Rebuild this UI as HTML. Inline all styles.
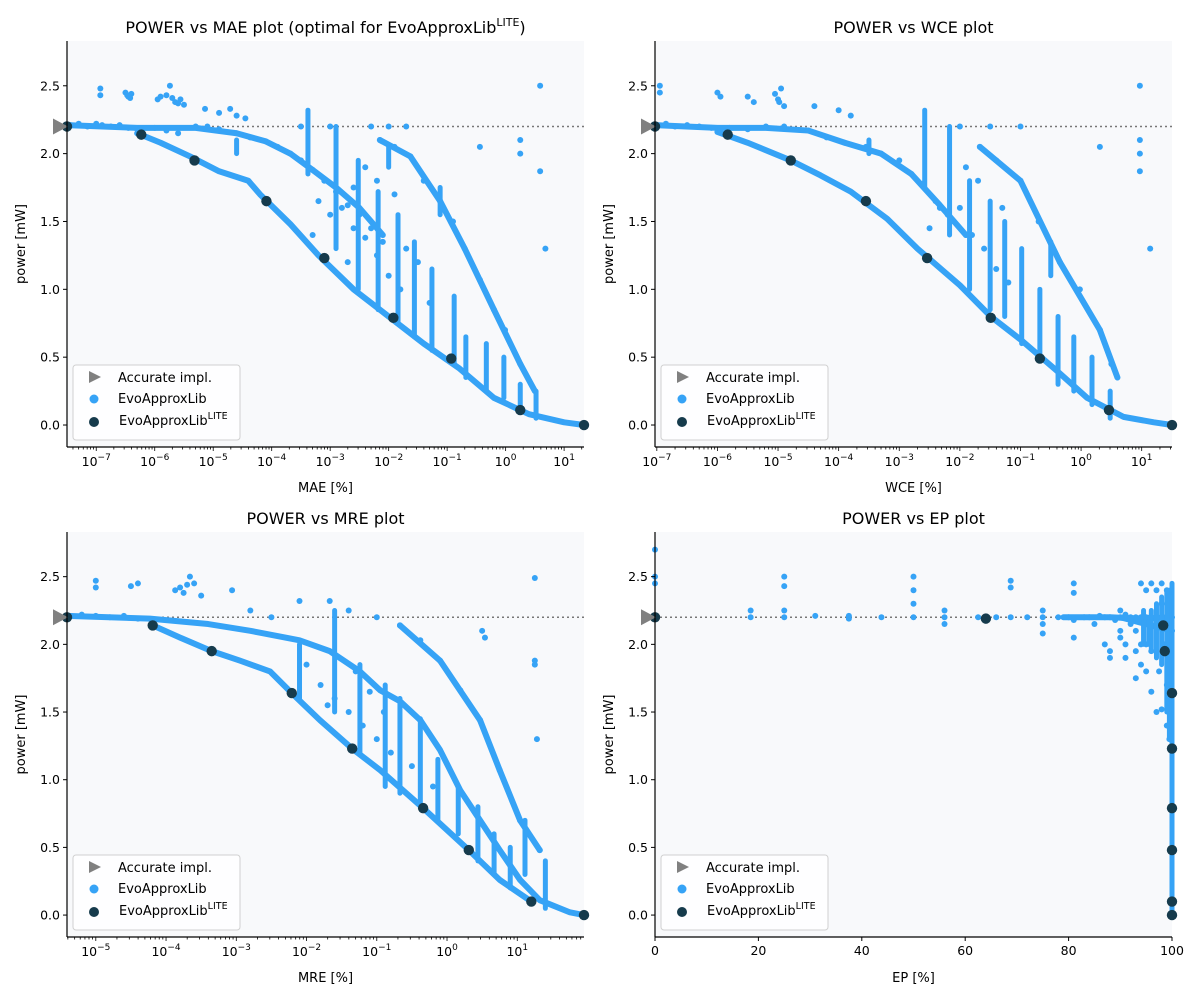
<!DOCTYPE html>
<html><head><meta charset="utf-8">
<style>
html,body{margin:0;padding:0;background:#fff;}
svg{display:block;font-family:"DejaVu Sans","Liberation Sans",sans-serif;}
</style></head>
<body>
<svg id="fig" width="1200" height="1000" viewBox="0 0 1200 1000" xmlns="http://www.w3.org/2000/svg"></svg>
<script>
// ---- data (x in log10 for log panels) ----
const maePts=[[-7.44,2.21],[-7.3,2.22],[-7.15,2.2],[-7,2.22],[-6.9,2.21],[-6.75,2.2],[-6.6,2.21],[-6.45,2.19],[-6.3,2.18],[-6.93,2.43],[-6.93,2.48],[-6.5,2.45],[-6.45,2.42],[-6.4,2.44],[-5.95,2.4],[-5.8,2.43],[-5.74,2.5],[-5.65,2.38],[-5.56,2.4],[-5.5,2.36],[-5.14,2.33],[-4.9,2.3],[-4.71,2.33],[-4.6,2.28],[-4.45,2.26],[-6.47,2.43],[-6.42,2.41],[-5.9,2.42],[-5.7,2.41],[-5.6,2.37],
[-6,2.19],[-5.8,2.17],[-5.6,2.15],[-5.3,2.2],[-5.1,2.2],[-4.9,2.18],[-4.6,2.15],[-4.37,2.12],[-4.1,2.09],[-3.9,2.05],[-3.68,2.0],[-3.5,1.95],[-3.3,1.88],[-3.1,1.8],[-2.9,1.72],[-2.7,1.62],[-2.5,1.55],[-2.3,1.45],[-2.1,1.35],
[-2.15,2.1],[-1.9,2.05],[-1.63,1.98],[-1.4,1.8],[-1.12,1.65],[-0.9,1.5],[-0.7,1.3],[-0.44,1.07],[-0.2,0.85],[-0.01,0.7],[0.25,0.45],
[0.59,2.5],[0.25,2.1],[0.25,2.0],[0.59,1.87],[0.68,1.3],[-0.44,2.05],[-2.3,2.2],[-3.0,2.2],[-2.0,2.2],[-1.7,2.2],[-3.5,2.2],
[-3.2,1.65],[-3.0,1.55],[-2.8,1.6],[-2.6,1.45],[-2.4,1.38],[-2.2,1.25],[-2.0,1.1],[-1.8,1.0],[-3.3,1.4],[-2.7,1.2],[-2.4,1.9],[-2.2,1.8],[-1.9,1.7],[-2.6,1.75],[-1.5,1.2],[-1.3,0.9],[-1.7,1.3]];
const maeBands=[
 [[-7.5,2.21],[-6.3,2.19],[-6.0,2.19],[-5.3,2.19],[-4.6,2.15],[-4.1,2.09],[-3.68,2.0],[-3.3,1.88],[-2.9,1.75],[-2.5,1.6],[-2.1,1.4]],
 [[-6.3,2.15],[-5.9,2.08],[-5.4,1.98],[-4.9,1.87],[-4.4,1.8],[-4.2,1.7],[-3.68,1.48],[-3.2,1.25],[-2.6,1.0],[-2.0,0.8],[-1.4,0.6],[-0.8,0.42],[-0.2,0.2],[0.4,0.08],[1.0,0.02],[1.34,0.0]],
 [[-2.15,2.1],[-1.63,1.98],[-1.12,1.65],[-0.7,1.3],[-0.2,0.85],[0.25,0.45],[0.5,0.25]]];
const maeStreaks=[[-3.38,2.32,1.85],[-2.9,2.2,1.3],[-2.52,1.95,1.0],[-2.18,1.72,0.85],[-1.84,1.55,0.75],[-1.56,1.35,0.65],[-1.26,1.15,0.55],[-0.88,0.95,0.45],[-0.68,0.65,0.35],[-0.33,0.6,0.25],[-0.03,0.5,0.2],[0.52,0.25,0.05],[0.25,0.3,0.1],[-1.12,1.75,1.55],[-2.0,2.05,1.9],[-4.6,2.1,2.0]];
const maeLite=[[-7.5,2.2],[-6.23,2.14],[-5.32,1.95],[-4.09,1.65],[-3.10,1.23],[-1.92,0.79],[-0.93,0.49],[0.25,0.11],[1.34,0.0]];

const wcePts=[[-7,2.21],[-6.85,2.22],[-6.7,2.2],[-6.5,2.21],[-6.3,2.2],[-6.1,2.19],[-5.95,2.17],[-6.95,2.45],[-6.95,2.5],[-6.0,2.45],[-5.95,2.42],[-5.5,2.42],[-5.4,2.38],[-5.0,2.4],[-4.95,2.48],[-4.9,2.35],[-4.4,2.35],[-4.0,2.32],[-3.8,2.28],[-5.05,2.44],[-4.98,2.38],
[-5.8,2.19],[-5.5,2.18],[-5.2,2.2],[-4.9,2.2],[-4.5,2.17],[-4.2,2.12],[-3.9,2.08],[-3.55,2.05],[-3.3,2.0],[-3.0,1.95],[-2.8,1.85],[-2.6,1.78],[-2.33,1.6],[-2.1,1.5],[-1.9,1.4],
[-1.67,2.05],[-1.4,1.95],[-1.0,1.8],[-0.7,1.5],[-0.35,1.2],[-0.02,1.0],[0.31,0.7],[0.5,0.45],
[0.97,2.5],[0.97,2.1],[0.97,2.0],[0.97,1.87],[1.14,1.3],[0.31,2.05],[-1.0,2.2],[-2.0,2.2],[-1.5,2.2],
[-2.4,1.65],[-2.2,1.55],[-2.0,1.6],[-1.8,1.4],[-1.6,1.3],[-1.4,1.15],[-1.2,1.05],[-2.5,1.45],[-1.7,1.8],[-1.3,1.6],[-1.9,1.9]];
const wceBands=[
 [[-7.03,2.21],[-6.0,2.19],[-5.2,2.19],[-4.5,2.17],[-3.9,2.08],[-3.3,2.0],[-2.8,1.85],[-2.33,1.62],[-1.9,1.4]],
 [[-6.0,2.16],[-5.5,2.08],[-4.79,1.95],[-4.3,1.84],[-3.8,1.72],[-3.2,1.52],[-2.7,1.3],[-2.0,1.03],[-1.49,0.8],[-1.0,0.63],[-0.4,0.4],[0.1,0.2],[0.7,0.06],[1.2,0.02],[1.5,0.0]],
 [[-1.67,2.05],[-1.0,1.8],[-0.35,1.2],[0.31,0.7],[0.6,0.35]]];
const wceStreaks=[[-2.58,2.32,1.75],[-2.17,2.2,1.4],[-1.84,1.8,1.0],[-1.5,1.65,0.85],[-1.26,1.5,0.8],[-0.98,1.3,0.6],[-0.68,1.0,0.5],[-0.38,0.8,0.3],[-0.12,0.65,0.25],[0.18,0.5,0.15],[0.48,0.25,0.05],[-3.5,2.1,2.0],[-0.5,1.35,1.1]];
const wceLite=[[-7.03,2.2],[-5.83,2.14],[-4.79,1.95],[-3.55,1.65],[-2.54,1.23],[-1.49,0.79],[-0.68,0.49],[0.46,0.11],[1.5,0.0]];

const mrePts=[[-5.4,2.2],[-5.2,2.22],[-5.0,2.21],[-4.8,2.2],[-4.6,2.21],[-4.4,2.19],[-5,2.47],[-5,2.42],[-4.5,2.43],[-4.4,2.45],[-3.87,2.4],[-3.66,2.5],[-3.5,2.36],[-3.06,2.4],[-2.8,2.25],[-2.1,2.32],[-1.67,2.32],[-1.4,2.25],[-3.8,2.42],[-3.6,2.45],[-3.75,2.38],[-3.7,2.44],
[-0.67,2.14],[-0.38,2.03],[-0.1,1.88],[0.19,1.66],[0.47,1.44],[0.75,1.07],[1.04,0.7],[1.32,0.48],
[1.25,2.49],[1.25,1.88],[1.25,1.85],[1.28,1.3],[0.54,2.05],[0.5,2.1],[-1.0,2.2],[-2.5,2.2],
[-2.0,1.85],[-1.8,1.7],[-1.6,1.6],[-1.4,1.5],[-1.2,1.4],[-1.0,1.3],[-0.8,1.2],[-1.7,1.55],[-1.3,1.8],[-1.1,1.65],[-0.9,1.5],[-0.5,1.1],[-0.2,0.95]];
const mreBands=[
 [[-5.41,2.21],[-4.23,2.19],[-3.4,2.15],[-2.8,2.1],[-2.1,2.03],[-1.67,1.95],[-1.24,1.8],[-0.95,1.66],[-0.67,1.58],[-0.38,1.44],[-0.1,1.22],[0.19,0.92],[0.47,0.7],[0.75,0.48],[1.04,0.26],[1.32,0.11],[1.75,0.02],[1.95,0.0]],
 [[-4.19,2.14],[-3.8,2.05],[-3.35,1.95],[-2.95,1.88],[-2.52,1.8],[-2.21,1.64],[-1.81,1.44],[-1.35,1.23],[-0.95,1.07],[-0.34,0.79],[0.31,0.48],[0.75,0.26],[1.2,0.1]],
 [[-0.67,2.14],[-0.1,1.88],[0.47,1.44],[0.75,1.07],[1.04,0.7],[1.32,0.48]]];
const mreStreaks=[[-1.6,2.25,1.5],[-1.24,1.85,1.2],[-0.88,1.7,0.95],[-0.67,1.6,0.9],[-0.38,1.45,0.8],[-0.13,1.15,0.7],[0.16,0.95,0.6],[0.44,0.8,0.4],[0.67,0.6,0.3],[0.9,0.5,0.2],[1.11,0.7,0.3],[1.4,0.4,0.05],[-2.1,2.0,1.6]];
const mreLite=[[-5.41,2.2],[-4.19,2.14],[-3.35,1.95],[-2.21,1.64],[-1.35,1.23],[-0.34,0.79],[0.31,0.48],[1.2,0.1],[1.95,0.0]];

const epPts=[[0,2.7],[0,2.5],[0,2.45],[0,2.2],[18.5,2.25],[18.5,2.2],[25,2.5],[25,2.43],[25,2.25],[25,2.2],[31,2.21],[37.5,2.21],[37.5,2.19],[43.8,2.2],[50,2.5],[50,2.4],[50,2.3],[50,2.2],[56,2.25],[56,2.2],[56,2.15],[62.5,2.2],[64,2.18],[66,2.2],[68.8,2.47],[68.8,2.42],[68.8,2.2],[72,2.2],[75,2.25],[75,2.2],[75,2.15],[75,2.08],[78,2.2],[80,2.2],[81,2.45],[81,2.38],[81,2.18],[81,2.05],[84,2.2],[85,2.15],[87,2.2],[87,2.0],[88,1.95],[88,1.9],[89,2.18],[90,2.25],[90,2.1],[91,2.0],[91,1.9],[92,2.2],[93,2.1],[93,1.75],[94,2.45],[94,2.0],[94,1.85],[95,2.4],[95,2.2],[95,1.8],[96,2.45],[96,1.95],[96,1.65],[97,2.4],[97,2.2],[97,1.5],[97.5,1.8],[98,2.45],[98,2.3],[98,1.52],[98.5,2.0],[99,2.4],[99,1.7],[99,1.4],[99.5,2.35],[99.5,1.3],[83,2.2],[86,2.21],[88,2.2],[91,2.22],[93,2.2],[94,2.2],[92,2.15],[90,2.05],[95,2.0],[93,1.95]];
const epBands=[[[79,2.2],[88,2.2],[94,2.19],[100,2.2]],[[90,2.2],[95,2.15],[100,2.1]]];
const epStreaks=[[100,2.45,0.0],[99.5,2.4,1.3],[96,2.25,1.95],[97,2.3,1.9],[98,2.35,1.85],[99,2.4,1.5],[94.5,2.25,2.0],[95.5,2.2,2.0]];
const epLite=[[0,2.2],[64,2.19],[98.3,2.14],[98.6,1.95],[100,1.64],[100,1.23],[100,0.79],[100,0.48],[100,0.1],[100,0.0]];

const yTicks=[0,0.5,1.0,1.5,2.0,2.5];
const accurateY=2.2;

const NS="http://www.w3.org/2000/svg";
const svg=document.getElementById('fig');
const BLUE="#36a3f6", DARK="#163b4c";
function mk(tag,attrs,parent){const e=document.createElementNS(NS,tag);for(const k in attrs)e.setAttribute(k,attrs[k]);(parent||svg).appendChild(e);return e;}

function panel(cfg){
  const g=mk('g',{});
  
  
  const {x0,x1,y0,y1,xmin,xmax}=cfg;
  const ymin=-0.162,ymax=2.83;
  const sx=v=>x0+(v-xmin)/(xmax-xmin)*(x1-x0);
  const sy=v=>y1-(v-ymin)/(ymax-ymin)*(y1-y0);
  const bg=mk('rect',{x:x0,y:y0,width:x1-x0,height:y1-y0,fill:'#f8f9fb'},g);
  
  
  const clip='c'+cfg.name;
  const cp=mk('clipPath',{id:clip},g);mk('rect',{x:x0-6,y:y0,width:x1-x0+12,height:y1-y0},cp);
  const marks=mk('g',{'clip-path':'url(#'+clip+')'},g);
  const rl=mk('line',{x1:x0,x2:x1,y1:sy(accurateY),y2:sy(accurateY),stroke:'#777',"stroke-width":1.5,"stroke-dasharray":"2,3"},marks);
  
  
  cfg.bands.forEach(b=>{
    const pl=mk('polyline',{points:b.map(p=>sx(p[0])+','+sy(p[1])).join(' '),fill:'none',stroke:BLUE,"stroke-width":6,"stroke-linecap":"round","stroke-linejoin":"round"},marks);
    
    
  });
  cfg.streaks.forEach(s=>{
    const l=mk('line',{x1:sx(s[0]),x2:sx(s[0]),y1:sy(s[1]),y2:sy(s[2]),stroke:BLUE,"stroke-width":5,"stroke-linecap":"round"},marks);
    
    
  });
  cfg.pts.forEach(p=>{
    const c=mk('circle',{cx:sx(p[0]),cy:sy(p[1]),r:3,fill:BLUE},marks);
    
    
  });
  cfg.lite.forEach(p=>{
    const c=mk('circle',{cx:sx(p[0]),cy:sy(p[1]),r:5.2,fill:DARK},marks);
    
    
  });
  const tri=mk('polygon',{points:`${x0-14},${sy(accurateY)-8} ${x0-14},${sy(accurateY)+8} ${x0+1},${sy(accurateY)}`,fill:'#808080'},g);
  
  
  mk('line',{x1:x0,x2:x0,y1:y0,y2:y1,stroke:'#000',"stroke-width":1.2},g);
  mk('line',{x1:x0,x2:x1,y1:y1,y2:y1,stroke:'#000',"stroke-width":1.2},g);
  yTicks.forEach(v=>{
    const y=sy(v);
    mk('line',{x1:x0-4,x2:x0,y1:y,y2:y,stroke:'#000'},g);
    const t=mk('text',{x:x0-7,y:y+4.5,"text-anchor":"end","font-size":12.5},g);t.textContent=v.toFixed(1);
    
    
  });
  if(cfg.log){
    for(let d=Math.floor(xmin);d<=Math.ceil(xmax);d++){
      for(let m=1;m<10;m++){
        const v=d+Math.log10(m); if(v<xmin||v>xmax)continue;
        const x=sx(v);
        mk('line',{x1:x,x2:x,y1:y1,y2:y1+(m==1?4:2.5),stroke:'#000',"stroke-width":0.8},g);
        if(m==1){
          const t=mk('text',{x:x,y:y1+19,"text-anchor":"middle","font-size":12.5},g);
          
          
          t.appendChild(document.createTextNode('10'));
          const ts=mk('tspan',{dy:-6,"font-size":9},t);ts.textContent=(d<0?'\u2212'+(-d):''+d);
        }
      }
    }
  } else {
    [0,20,40,60,80,100].forEach(v=>{
      const x=sx(v);
      mk('line',{x1:x,x2:x,y1:y1,y2:y1+4,stroke:'#000'},g);
      const t=mk('text',{x:x,y:y1+18,"text-anchor":"middle","font-size":12.5},g);t.textContent=v;
      
      
    });
  }
  const xl=mk('text',{x:(x0+x1)/2,y:y1+45,"text-anchor":"middle","font-size":13},g);xl.textContent=cfg.xlabel;
  
  
  const yl=mk('text',{x:0,y:0,"text-anchor":"middle","font-size":13,transform:`translate(${x0-42},${(y0+y1)/2}) rotate(-90)`},g);yl.textContent='power [mW]';
  
  
  const ti=mk('text',{x:(x0+x1)/2,y:y0-8,"text-anchor":"middle","font-size":16},g);
  
  
  ti.appendChild(document.createTextNode(cfg.title));
  if(cfg.titleSup){const s=mk('tspan',{dy:-7,"font-size":11},ti);s.textContent='LITE';const s2=mk('tspan',{dy:7},ti);s2.textContent=')';}
  const lg=mk('g',{},g);
  
  
  const lx=x0+6, ly=y1-82;
  mk('rect',{x:lx,y:ly,width:167,height:75,rx:3,fill:'#fff',"fill-opacity":0.85,stroke:'#d0d0d0'},lg);
  mk('polygon',{points:`${lx+16},${ly+6} ${lx+16},${ly+18} ${lx+28},${ly+12}`,fill:'#808080'},lg);
  const t1=mk('text',{x:lx+45,y:ly+17,"font-size":13},lg);t1.textContent='Accurate impl.';
  
  
  mk('circle',{cx:lx+21,cy:ly+34,r:4.5,fill:BLUE},lg);
  const t2=mk('text',{x:lx+45,y:ly+38,"font-size":13},lg);t2.textContent='EvoApproxLib';
  
  
  mk('circle',{cx:lx+21,cy:ly+57,r:5,fill:DARK},lg);
  const t3=mk('text',{x:lx+46,y:ly+60,"font-size":13},lg);
  
  
  t3.appendChild(document.createTextNode('EvoApproxLib'));
  const sp=mk('tspan',{dy:-6,"font-size":9.5},t3);sp.textContent='LITE';
}

panel({name:'mae-panel',x0:67,x1:584,y0:41,y1:447,xmin:-7.5,xmax:1.34,log:true,pts:maePts,bands:maeBands,streaks:maeStreaks,lite:maeLite,xlabel:'MAE [%]',title:'POWER vs MAE plot (optimal for EvoApproxLib',titleSup:true});
panel({name:'wce-panel',x0:655,x1:1172,y0:41,y1:447,xmin:-7.03,xmax:1.5,log:true,pts:wcePts,bands:wceBands,streaks:wceStreaks,lite:wceLite,xlabel:'WCE [%]',title:'POWER vs WCE plot'});
panel({name:'mre-panel',x0:67,x1:584,y0:532,y1:937,xmin:-5.41,xmax:1.95,log:true,pts:mrePts,bands:mreBands,streaks:mreStreaks,lite:mreLite,xlabel:'MRE [%]',title:'POWER vs MRE plot'});
panel({name:'ep-panel',x0:655,x1:1172,y0:532,y1:937,xmin:0,xmax:100,log:false,pts:epPts,bands:epBands,streaks:epStreaks,lite:epLite,xlabel:'EP [%]',title:'POWER vs EP plot'});
</script>
</body></html>
